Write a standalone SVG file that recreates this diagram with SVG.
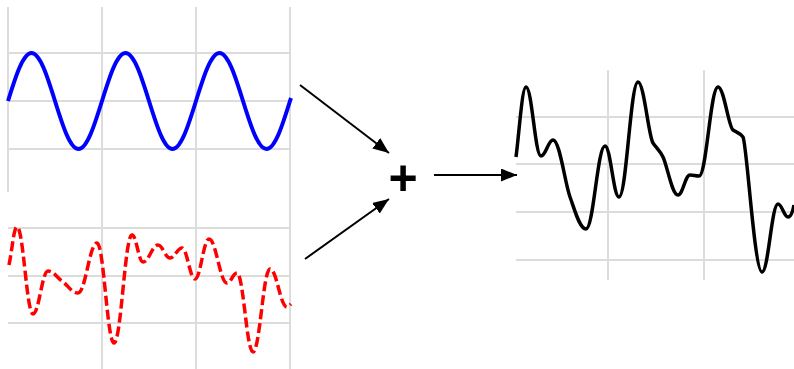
<svg xmlns="http://www.w3.org/2000/svg" width="794" height="369" viewBox="0 0 794 369">
<defs>
<style>
.grid{stroke:#dcdcdc;stroke-width:2;fill:none}
.conn{stroke:#000;stroke-width:2;fill:none}
</style>
<marker id="ah" markerUnits="userSpaceOnUse" markerWidth="17" markerHeight="14" refX="16" refY="6.5" orient="auto">
<path d="M0,0 L16,6.5 L0,13 Z" fill="#000"/>
</marker>
</defs>
<rect width="794" height="369" fill="#fff"/>
<g id="blue-signal">
<path class="grid" d="M8,7 V192 M102,7 V190 M196,7 V190 M290,7 V190 M8,53 H291 M8,101 H291 M8,149 H291"/>
<path fill="none" stroke="#0000ff" stroke-width="4" d="M8,101 C15.67,76.4 23.02,53 31.5,53 S47.33,76.4 55,101 S70.02,149 78.5,149 S94.33,125.6 102,101 S117.02,53 125.5,53 S141.33,76.4 149,101 S164.02,149 172.5,149 S188.33,125.6 196,101 S211.02,53 219.5,53 S235.33,76.4 243,101 S258.02,149 266.5,149 S282.33,125.6 290,101 L291,98"/>
</g>
<g id="red-signal">
<path class="grid" d="M102,190 V369 M196,190 V369 M290,190 V369 M8,228 H291 M8,276 H291 M8,323 H291"/>
<path fill="none" stroke="#ff0000" stroke-width="3.5" stroke-dasharray="10,4" d="M9,265 C12,251 13.8,227 17,227 C23.4,227 26.6,314 33,314 C39,314 42,271 48,271 C53.6,271 56.4,276.9 62,281 C68.4,285.7 71.6,293 78,293 C85.6,293 89.4,243 97,243 C103.8,243 107.2,343 114,343 C121.2,343 124.8,235 132,235 C136.4,235 138.6,262 143,262 C149,262 152,245 158,245 C162.8,245 165.2,258 170,258 C174.8,258 177.2,248 182,248 C187.2,248 189.8,279 195,279 C200.6,279 203.4,239 209,239 C216.2,239 219.8,283 227,283 C231,283 233,273 237,273 C243.4,273 246.6,352 253,352 C259.8,352 263.2,269 270,269 C276.8,269 280.2,307 287,307 C288.6,307 290,305 291,304"/>
</g>
<g id="sum-operator">
<text x="403" y="195" font-family="Liberation Sans, Arial, sans-serif" font-weight="bold" font-size="50" text-anchor="middle" fill="#000">+</text>
</g>
<g id="result-signal">
<path class="grid" d="M608,70 V280 M704,70 V280 M516,117 H794 M516,164 H794 M516,212 H794 M516,260 H794"/>
<path fill="none" stroke="#000" stroke-width="3.5" d="M516,157 C519,135 522,87 526,87 C532,87 535,156 541,156 C545.8,156 548.2,140 553,140 C559.8,140 564.9,183.2 570,197 C574.8,210 579.6,229 586,229 C593.6,229 597.4,146 605,146 C610.6,146 613.4,197 619,197 C626.6,197 630.4,82 638,82 C644,82 648.5,136.25 653,143 C656,147.5 660,150.7 663,157 C667.5,166.5 672,195 678,195 C682.8,195 685.2,175 690,175 C693.6,175 695.4,176 699,176 C706.6,176 710.4,87 718,87 C724,87 728.5,127 733,130 C736,132 740,133 743,137 C747,145 754.4,272 762,272 C768.4,272 771.6,204 778,204 C782,204 784,217 788,217 C791,217 793,210 794,205"/>
</g>
<g id="connectors">
<line class="conn" x1="300" y1="85" x2="389" y2="153" marker-end="url(#ah)"/>
<line class="conn" x1="305" y1="259" x2="389" y2="199" marker-end="url(#ah)"/>
<line class="conn" x1="434" y1="175" x2="517" y2="175" marker-end="url(#ah)"/>
</g>
</svg>
